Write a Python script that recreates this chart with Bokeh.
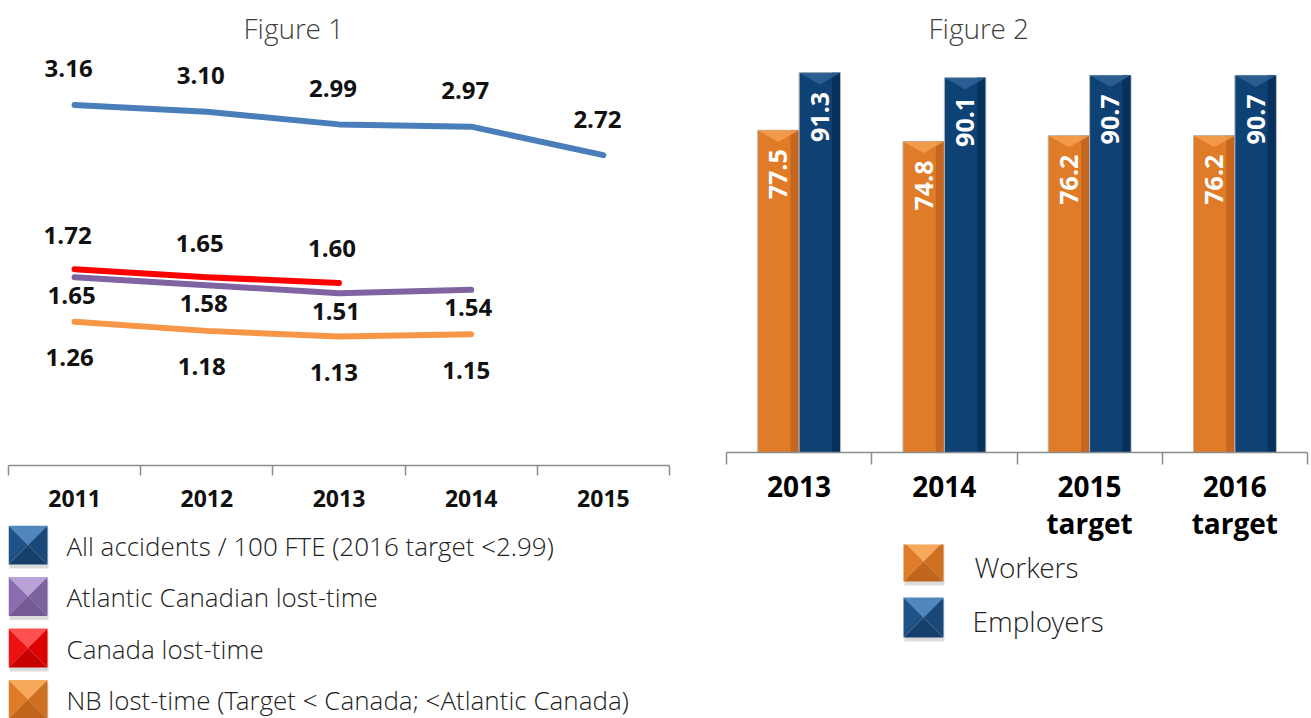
import math
from bokeh.plotting import figure
from bokeh.models import (Range1d, LinearAxis, FixedTicker, ColumnDataSource)
from bokeh.layouts import row, column
from bokeh.transform import dodge
from bokeh.core.properties import value
from bokeh.embed import file_html
from bokeh.resources import INLINE

# ---------------- data ----------------
years = ["2011", "2012", "2013", "2014", "2015"]
all_accidents = [3.16, 3.10, 2.99, 2.97, 2.72]
atlantic = [1.65, 1.58, 1.51, 1.54]
canada = [1.72, 1.65, 1.60]
nb = [1.26, 1.18, 1.13, 1.15]

legend1_labels = [
    "All accidents / 100 FTE (2016 target <2.99)",
    "Atlantic Canadian lost-time",
    "Canada lost-time",
    "NB lost-time (Target < Canada; <Atlantic Canada)",
]

bar_cats = ["2013", "2014", "2015\ntarget", "2016\ntarget"]
workers = [77.5, 74.8, 76.2, 76.2]
employers = [91.3, 90.1, 90.7, 90.7]
legend2_labels = ["Workers", "Employers"]

# ---------------- styles ----------------
LINE_BLUE = "#4a7ebb"
LINE_PURPLE = "#8064a2"
LINE_RED = "#ff0000"
LINE_ORANGE = "#f79646"
AXIS_GRAY = "#8c8c8c"
LIGHT_FONT = "'Open Sans Light', 'Open Sans'"
BOLD_FONT = "Open Sans"

PAGE_H = 718
W1, H1 = 708, 525          # figure 1 block
W2, H2 = 603, 544          # figure 2 block
B1L, B1R = 8, 39           # figure 1 side borders
B2L, B2R = 18, 4           # figure 2 side borders


def clean(p):
    p.outline_line_color = None
    p.xgrid.visible = False
    p.ygrid.visible = False
    p.background_fill_color = "white"
    p.border_fill_color = "white"


def cat_pos(cats):
    """Centre position of each category slot on the x scale."""
    return [i + 0.5 for i in range(len(cats))]


def add_category_axes(p, cats, tick_len, size, color, standoffs):
    n = len(cats)
    edge_axis = LinearAxis(ticker=FixedTicker(ticks=list(range(n + 1)), minor_ticks=[]),
                           major_label_text_font_size="0px", major_label_standoff=0,
                           major_label_text_color=None,
                           major_tick_in=0, major_tick_out=tick_len,
                           axis_line_color=AXIS_GRAY, major_tick_line_color=AXIS_GRAY,
                           axis_line_width=1.5, major_tick_line_width=1.5,
                           minor_tick_line_color=None)
    p.add_layout(edge_axis, "below")
    centres = cat_pos(cats)
    lines = [c.split("\n") for c in cats]
    nlines = max(len(l) for l in lines)
    for k in range(nlines):
        labs = [l[k] if k < len(l) else "" for l in lines]
        lab_axis = LinearAxis(ticker=FixedTicker(ticks=centres, minor_ticks=[]),
                              major_label_overrides={c: lab for c, lab in zip(centres, labs)},
                              axis_line_color=None, major_tick_line_color=None,
                              minor_tick_line_color=None, major_label_standoff=standoffs[k],
                              major_label_text_font=BOLD_FONT,
                              major_label_text_font_style="bold",
                              major_label_text_font_size=size,
                              major_label_text_color=color)
        p.add_layout(lab_axis, "below")


def style_title(p, offset):
    p.title.align = "left"
    p.title.offset = offset
    p.title.text_font = LIGHT_FONT
    p.title.text_font_size = "28px"
    p.title.text_font_style = "normal"
    p.title.text_color = "#404040"
    p.title.standoff = 12


# ---------------- Figure 1 ----------------
p1 = figure(width=W1, height=H1, x_range=Range1d(0, len(years)),
            y_range=Range1d(0, 3.62), output_backend="svg",
            toolbar_location=None, x_axis_location=None, y_axis_location=None,
            min_border_left=B1L, min_border_right=B1R, min_border_top=50,
            min_border_bottom=60, title="Figure 1")
clean(p1)
style_title(p1, 235)
add_category_axes(p1, years, 10, "23px", "#111111", [8])

xpos = cat_pos(years)
series = [
    (all_accidents, LINE_BLUE, -36, -6),
    (atlantic, LINE_PURPLE, 18, -3),
    (canada, LINE_RED, -34, -7),
    (nb, LINE_ORANGE, 36, -5),
]
for ys, col, yoff, xoff in series:
    p1.line(xpos[:len(ys)], ys, line_width=6, line_color=col, line_cap="round",
            line_join="round")
for ys, col, yoff, xoff in series:
    p1.text(x=xpos[:len(ys)], y=ys, text=[f"{v:.2f}" for v in ys], text_align="center",
            text_baseline="middle", y_offset=yoff, x_offset=xoff,
            text_font=value(BOLD_FONT), text_font_style="bold",
            text_font_size="24px", text_color="#111111")


# ---------------- legend helpers (page-pixel coordinates) ----------------
def legend_fig(x0, width, y0, bl, br):
    h = PAGE_H - y0
    p = figure(width=width, height=h, x_range=Range1d(x0 + bl, x0 + width - br),
               y_range=Range1d(PAGE_H, y0), output_backend="svg",
               toolbar_location=None, x_axis_location=None, y_axis_location=None,
               min_border_left=bl, min_border_right=br, min_border_top=0,
               min_border_bottom=0, title=None)
    clean(p)
    return p


def draw_icon(p, left, top, s, shades):
    light, base, base2, dark = shades
    cx, cy = left + s / 2, top + s / 2
    p.quad(left=[left + 1], right=[left + s + 1], top=[top + 3], bottom=[top + s + 4],
           fill_color="#9a9a9a", fill_alpha=0.35, line_color=None)
    xs = [[left, left + s, cx], [left, cx, left], [left + s, left + s, cx],
          [left, left + s, cx]]
    ys = [[top, top, cy], [top, cy, top + s], [top, top + s, cy],
          [top + s, top + s, cy]]
    p.patches(xs, ys, fill_color=[light, base, base2, dark], line_color=None)


BLUE_ICON = ("#4f86bd", "#1f5286", "#1a4878", "#173f6b")
PURPLE_ICON = ("#b9a3d6", "#8a6db0", "#7d62a0", "#735a95")
RED_ICON = ("#ff5050", "#ee1111", "#dd0000", "#c80000")
ORANGE_ICON = ("#f7a85a", "#e07c28", "#cf6f20", "#c0651c")

# ---------------- Legend 1 ----------------
leg1 = legend_fig(0, W1, H1, B1L, B1R)
icon_shades1 = [BLUE_ICON, PURPLE_ICON, RED_ICON, ORANGE_ICON]
for i, lab in enumerate(legend1_labels):
    draw_icon(leg1, 8, H1 + i * 51.5, 39, icon_shades1[i])
leg1.text(x=[66] * len(legend1_labels),
          y=[H1 + i * 51.5 + 20 for i in range(len(legend1_labels))],
          text=legend1_labels, text_align="left", text_baseline="middle",
          text_font=value(LIGHT_FONT), text_font_size="26px", text_color="#222222")

# ---------------- Figure 2 ----------------
p2 = figure(width=W2, height=H2, x_range=Range1d(0, len(bar_cats)),
            y_range=Range1d(0, 96.2), output_backend="svg", toolbar_location=None,
            x_axis_location=None, y_axis_location=None,
            min_border_left=B2L, min_border_right=B2R, min_border_top=50,
            min_border_bottom=92, title="Figure 2")
clean(p2)
style_title(p2, 202)
add_category_axes(p2, bar_cats, 12, "28px", "#000000", [5, -2])

src = ColumnDataSource(dict(x=cat_pos(bar_cats), w=workers, e=employers,
                            wl=[f"{v:.1f}" for v in workers],
                            el=[f"{v:.1f}" for v in employers]))
BW = 0.285
STRIP = 0.055
CAP = 2.8  # height of the bevelled top, in value units
for field, off, main, darkc, capc, lab in [
        ("w", -BW / 2, "#e07b28", "#c4661f", "#f3a04f", "wl"),
        ("e", BW / 2, "#0e4174", "#07315c", "#2f6396", "el")]:
    p2.vbar(x=dodge("x", off), top=field, width=BW, source=src,
            fill_color=main, line_color="#b5b5b5", line_width=1)
    p2.vbar(x=dodge("x", off + BW / 2 - STRIP / 2 - 0.004), top=field,
            width=STRIP, source=src, fill_color=darkc, line_color=None)
    cap_xs, cap_ys = [], []
    for xc, v in zip(src.data["x"], src.data[field]):
        c = xc + off
        cap_xs.append([c - BW / 2, c + BW / 2, c])
        cap_ys.append([v, v, v - CAP])
    p2.patches(cap_xs, cap_ys, fill_color=capc, fill_alpha=0.85, line_color=None)
    p2.text(x=dodge("x", off), y=field, text=lab, source=src,
            angle=math.pi / 2, text_align="right", text_baseline="middle",
            y_offset=19, text_color="white", text_font=value(BOLD_FONT),
            text_font_style="bold", text_font_size="25px")

# ---------------- Legend 2 ----------------
leg2 = legend_fig(W1, W2, H2, B2L, B2R)
icon_shades2 = [ORANGE_ICON, BLUE_ICON]
for i, lab in enumerate(legend2_labels):
    draw_icon(leg2, 903, 541 + i * 56, 40, icon_shades2[i])
leg2.text(x=[974, 972], y=[566 + i * 54 for i in range(len(legend2_labels))],
          text=legend2_labels, text_align="left", text_baseline="middle",
          text_font=value(LIGHT_FONT), text_font_size="28px", text_color="#222222")

layout = row(column(p1, leg1), column(p2, leg2))
open("out.html", "w").write(file_html(layout, INLINE))
